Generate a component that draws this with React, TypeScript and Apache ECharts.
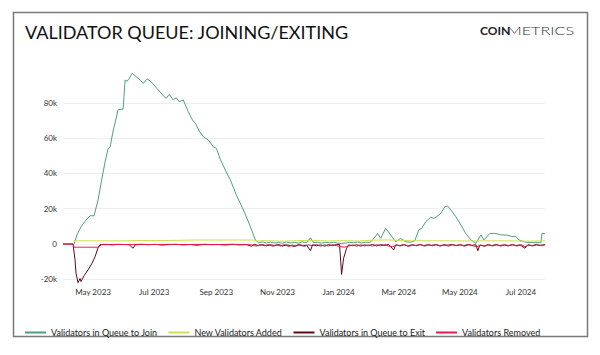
import React, { useEffect, useRef } from "react";
import * as echarts from "echarts";

const seriesNames = [
  "Validators in Queue to Join",
  "New Validators Added",
  "Validators in Queue to Exit",
  "Validators Removed",
];
const seriesColors = ["#4f9f7c", "#cfe04e", "#5a0c16", "#e8184c"];

const xLabelDates = [
  "2023-05-01", "2023-07-01", "2023-09-01", "2023-11-01",
  "2024-01-01", "2024-03-01", "2024-05-01", "2024-07-01",
];
const yTicks = [-20000, 0, 20000, 40000, 60000, 80000, 100000];

const joinQueue: [string, number][] = [
  ["2023-04-12", 0], ["2023-04-15", 5200], ["2023-04-19", 9800], ["2023-04-24", 13600],
  ["2023-04-28", 16000], ["2023-05-02", 16000], ["2023-05-06", 25000], ["2023-05-09", 34500],
  ["2023-05-13", 46500], ["2023-05-16", 54000], ["2023-05-18", 55000], ["2023-05-21", 64000],
  ["2023-05-26", 76000], ["2023-05-31", 76500], ["2023-06-02", 92900], ["2023-06-04", 92200],
  ["2023-06-06", 93800], ["2023-06-09", 96700], ["2023-06-13", 94800], ["2023-06-17", 92800],
  ["2023-06-20", 91000], ["2023-06-24", 93500], ["2023-06-27", 92400], ["2023-07-01", 90000],
  ["2023-07-06", 86700], ["2023-07-10", 84000], ["2023-07-13", 82500], ["2023-07-16", 84800],
  ["2023-07-20", 81600], ["2023-07-23", 82900], ["2023-07-26", 80600], ["2023-07-30", 81600],
  ["2023-08-04", 75000], ["2023-08-08", 70500], ["2023-08-11", 68400], ["2023-08-15", 64000],
  ["2023-08-19", 60800], ["2023-08-24", 58900], ["2023-08-29", 55100], ["2023-09-01", 54200],
  ["2023-09-05", 48000], ["2023-09-10", 41900], ["2023-09-15", 36300], ["2023-09-21", 27800],
  ["2023-09-28", 19300], ["2023-10-05", 9800], ["2023-10-10", 2300], ["2023-10-13", 800],
  ["2023-10-17", 1200], ["2023-10-21", 600], ["2023-10-25", 1000], ["2023-10-29", 500],
  ["2023-11-02", 900], ["2023-11-06", 400], ["2023-11-10", 1100], ["2023-11-14", 600],
  ["2023-11-18", 900], ["2023-11-22", 500], ["2023-11-26", 1200], ["2023-11-30", 700],
  ["2023-12-04", 3500], ["2023-12-07", 800], ["2023-12-11", 1000], ["2023-12-15", 500],
  ["2023-12-19", 900], ["2023-12-23", 600], ["2023-12-27", 1000], ["2023-12-31", 500],
  ["2024-01-04", 300], ["2024-01-08", 600], ["2024-01-12", 900], ["2024-01-16", 700],
  ["2024-01-20", 1100], ["2024-01-24", 600], ["2024-01-28", 1000], ["2024-02-01", 800],
  ["2024-02-04", 2300], ["2024-02-09", 6000], ["2024-02-12", 3200], ["2024-02-17", 8900],
  ["2024-02-22", 5100], ["2024-02-27", 1300], ["2024-03-03", 3200], ["2024-03-08", 1300],
  ["2024-03-13", 1000], ["2024-03-17", 1800], ["2024-03-21", 7900], ["2024-03-24", 8900],
  ["2024-03-28", 12600], ["2024-04-02", 15100], ["2024-04-05", 14500], ["2024-04-09", 15900],
  ["2024-04-12", 17400], ["2024-04-16", 21100], ["2024-04-19", 21500], ["2024-04-22", 19300],
  ["2024-04-27", 15500], ["2024-05-02", 10800], ["2024-05-07", 6000], ["2024-05-12", 2300],
  ["2024-05-17", 400], ["2024-05-22", 5100], ["2024-05-25", 2300], ["2024-05-31", 6000],
  ["2024-06-05", 6000], ["2024-06-09", 5500], ["2024-06-12", 5100], ["2024-06-17", 5100],
  ["2024-06-22", 4200], ["2024-06-26", 4200], ["2024-06-29", 2300], ["2024-07-04", 1300],
  ["2024-07-09", 800], ["2024-07-14", 800], ["2024-07-21", 800], ["2024-07-22", 6000],
  ["2024-07-25", 5800],
];

const newAdded: [string, number][] = [
  ["2023-04-12", 1800], ["2023-05-01", 1800], ["2023-06-01", 1800], ["2023-06-20", 2000],
  ["2023-07-15", 2000], ["2023-08-10", 2250], ["2023-09-10", 2250], ["2023-10-08", 2250],
  ["2023-10-12", 1700], ["2023-10-20", 1900], ["2023-11-05", 1600], ["2023-11-20", 1900],
  ["2023-12-05", 2100], ["2023-12-20", 1700], ["2024-01-05", 1900], ["2024-01-20", 1700],
  ["2024-02-05", 2200], ["2024-02-20", 2300], ["2024-03-05", 2000], ["2024-03-14", 1800],
  ["2024-04-15", 1800], ["2024-05-15", 1700], ["2024-06-01", 1800], ["2024-06-20", 1800],
  ["2024-07-05", 1600], ["2024-07-25", 1800],
];

const exitQueue: [string, number][] = [
  ["2023-04-01", 0], ["2023-04-11", 0], ["2023-04-13", -9000], ["2023-04-14", -16600],
  ["2023-04-16", -21900], ["2023-04-18", -19500], ["2023-04-19", -21300], ["2023-04-22", -18000],
  ["2023-04-26", -14700], ["2023-04-30", -10900], ["2023-05-03", -7200], ["2023-05-06", -2000],
  ["2023-05-08", -300], ["2023-05-14", -200], ["2023-05-20", -500], ["2023-05-26", -200],
  ["2023-06-01", -300], ["2023-06-06", -400], ["2023-06-10", -2400], ["2023-06-12", -500],
  ["2023-06-18", -200], ["2023-06-25", -400], ["2023-07-02", -200], ["2023-07-09", -600],
  ["2023-07-16", -300], ["2023-07-23", -200], ["2023-07-30", -500], ["2023-08-06", -300],
  ["2023-08-13", -700], ["2023-08-20", -200], ["2023-08-27", -400], ["2023-09-03", -300],
  ["2023-09-10", -600], ["2023-09-17", -200], ["2023-09-24", -500], ["2023-10-01", -300],
  ["2023-10-06", -1300], ["2023-10-09", -200], ["2023-10-13", -900], ["2023-10-17", -300],
  ["2023-10-21", -1100], ["2023-10-25", -400], ["2023-10-29", -1000], ["2023-11-02", -300],
  ["2023-11-06", -1200], ["2023-11-10", -500], ["2023-11-14", -900], ["2023-11-18", -1400],
  ["2023-11-22", -300], ["2023-11-26", -1100], ["2023-11-30", -600], ["2023-12-04", -3800],
  ["2023-12-06", -400], ["2023-12-10", -1000], ["2023-12-14", -500], ["2023-12-18", -1200],
  ["2023-12-22", -400], ["2023-12-26", -900], ["2023-12-30", -300], ["2024-01-02", -300],
  ["2024-01-04", -17200], ["2024-01-06", -8100], ["2024-01-09", -2400], ["2024-01-11", -500],
  ["2024-01-15", -1000], ["2024-01-19", -400], ["2024-01-23", -1200], ["2024-01-27", -500],
  ["2024-01-31", -900], ["2024-02-04", -300], ["2024-02-08", -1100], ["2024-02-12", -400],
  ["2024-02-16", -800], ["2024-02-20", -300], ["2024-02-25", -3400], ["2024-02-27", -500],
  ["2024-03-02", -1000], ["2024-03-06", -300], ["2024-03-10", -1200], ["2024-03-14", -500],
  ["2024-03-18", -900], ["2024-03-22", -300], ["2024-03-26", -1000], ["2024-03-30", -400],
  ["2024-04-03", -800], ["2024-04-07", -300], ["2024-04-11", -1100], ["2024-04-15", -400],
  ["2024-04-19", -700], ["2024-04-23", -300], ["2024-04-27", -900], ["2024-05-01", -400],
  ["2024-05-05", -1000], ["2024-05-09", -300], ["2024-05-13", -800], ["2024-05-17", -400],
  ["2024-05-19", -3800], ["2024-05-21", -600], ["2024-05-25", -1200], ["2024-05-29", -400],
  ["2024-06-02", -1000], ["2024-06-06", -300], ["2024-06-10", -900], ["2024-06-14", -500],
  ["2024-06-18", -1100], ["2024-06-22", -300], ["2024-06-26", -900], ["2024-06-30", -500],
  ["2024-07-05", -2400], ["2024-07-08", -400], ["2024-07-12", -1000], ["2024-07-16", -300],
  ["2024-07-20", -800], ["2024-07-25", -400],
];

const removed: [string, number][] = [
  ["2023-04-01", 0], ["2023-04-11", 0], ["2023-04-12", -1800], ["2023-05-07", -1800],
  ["2023-05-09", -400], ["2023-05-20", -200], ["2023-06-01", -300], ["2023-06-15", -200],
  ["2023-07-01", -300], ["2023-07-15", -200], ["2023-08-01", -300], ["2023-08-15", -200],
  ["2023-09-01", -300], ["2023-09-15", -200], ["2023-10-01", -300], ["2023-10-07", -600],
  ["2023-10-11", -1200], ["2023-10-15", -400], ["2023-10-19", -1000], ["2023-10-23", -300],
  ["2023-10-27", -1300], ["2023-10-31", -500], ["2023-11-04", -1100], ["2023-11-08", -300],
  ["2023-11-12", -1400], ["2023-11-16", -600], ["2023-11-20", -1100], ["2023-11-24", -400],
  ["2023-11-28", -1300], ["2023-12-02", -500], ["2023-12-06", -1000], ["2023-12-10", -300],
  ["2023-12-14", -1200], ["2023-12-18", -500], ["2023-12-22", -1100], ["2023-12-26", -400],
  ["2023-12-30", -1000], ["2024-01-03", -1500], ["2024-01-07", -1800], ["2024-01-11", -1200],
  ["2024-01-15", -500], ["2024-01-19", -1300], ["2024-01-23", -400], ["2024-01-27", -1100],
  ["2024-01-31", -600], ["2024-02-04", -1200], ["2024-02-08", -400], ["2024-02-12", -1000],
  ["2024-02-16", -300], ["2024-02-20", -1200], ["2024-02-24", -1500], ["2024-02-28", -600],
  ["2024-03-03", -1100], ["2024-03-07", -400], ["2024-03-11", -1300], ["2024-03-15", -500],
  ["2024-03-19", -1000], ["2024-03-23", -300], ["2024-03-27", -1200], ["2024-03-31", -500],
  ["2024-04-04", -1000], ["2024-04-08", -400], ["2024-04-12", -1100], ["2024-04-16", -600],
  ["2024-04-20", -1200], ["2024-04-24", -400], ["2024-04-28", -900], ["2024-05-02", -500],
  ["2024-05-06", -1200], ["2024-05-10", -400], ["2024-05-14", -1000], ["2024-05-18", -1500],
  ["2024-05-22", -600], ["2024-05-26", -1300], ["2024-05-30", -400], ["2024-06-03", -1100],
  ["2024-06-07", -500], ["2024-06-11", -1200], ["2024-06-15", -400], ["2024-06-19", -1000],
  ["2024-06-23", -500], ["2024-06-27", -1200], ["2024-07-01", -400], ["2024-07-05", -1500],
  ["2024-07-09", -600], ["2024-07-13", -1100], ["2024-07-17", -400], ["2024-07-21", -900],
  ["2024-07-25", -500],
];

const MONTHS = ["Jan", "Feb", "Mar", "Apr", "May", "Jun", "Jul", "Aug", "Sep", "Oct", "Nov", "Dec"];

function toTime(s: string): number {
  const [y, m, d] = s.split("-").map(Number);
  return Date.UTC(y, m - 1, d);
}

export default function App() {
  const ref = useRef<HTMLDivElement>(null);

  useEffect(() => {
    if (!ref.current) return;
    const chart = echarts.init(ref.current, null, { renderer: "svg" });
    const font = "Lato, 'Open Sans', sans-serif";
    const allData = [joinQueue, newAdded, exitQueue, removed];

    chart.setOption({
      animation: false,
      backgroundColor: "#ffffff",
      textStyle: { fontFamily: font },
      grid: {
        left: 63,
        right: 55,
        top: 67.5,
        bottom: 75.7,
        containLabel: false,
        outerBoundsMode: "none",
      },
      legend: {
        left: 20,
        top: 323,
        itemWidth: 21,
        itemHeight: 2,
        itemGap: 11,
        icon: "rect",
        textStyle: { fontFamily: font, fontSize: 9, color: "#222" },
        data: seriesNames,
      },
      xAxis: {
        type: "value",
        min: toTime("2023-04-01"),
        max: toTime("2024-07-25"),
        axisLine: { show: false },
        axisTick: { show: false },
        splitLine: { show: false },
        axisLabel: {
          customValues: xLabelDates.map(toTime),
          fontFamily: font,
          fontSize: 8,
          color: "#333",
          margin: 9,
          hideOverlap: false,
          formatter: (v: number) => {
            const d = new Date(v);
            return MONTHS[d.getUTCMonth()] + " " + d.getUTCFullYear();
          },
        },
      },
      yAxis: {
        type: "value",
        min: yTicks[0],
        max: yTicks[yTicks.length - 1],
        interval: 20000,
        axisLine: { show: false },
        axisTick: { show: false },
        splitLine: {
          show: true,
          showMaxLine: false,
          lineStyle: { color: "#eeeeee", width: 1 },
        },
        axisLabel: {
          fontFamily: font,
          fontSize: 8,
          color: "#333",
          margin: 6,
          showMaxLabel: false,
          formatter: (v: number) => (v === 0 ? "0" : v / 1000 + "k"),
        },
      },
      series: seriesNames.map((name, i) => ({
        name,
        type: "line",
        data: allData[i].map(([d, v]) => [toTime(d), v]),
        symbol: "none",
        clip: false,
        lineStyle: { color: seriesColors[i], width: 1 },
        itemStyle: { color: seriesColors[i] },
        z: 2 + i,
      })),
      graphic: [
        {
          type: "rect",
          shape: { x: 13.5, y: 12.5, width: 574, height: 324 },
          style: { fill: "none", stroke: "#7a7a7a", lineWidth: 1.5 },
          silent: true,
        },
        {
          type: "text",
          x: 25,
          y: 32,
          style: {
            text: "VALIDATOR QUEUE: JOINING/EXITING",
            fontFamily: font,
            fontSize: 18,
            fill: "#111",
            verticalAlign: "middle",
          },
        },
        {
          type: "text",
          x: 480,
          y: 30,
          style: {
            text: "COIN",
            fontFamily: font,
            fontSize: 12,
            fontWeight: "bold",
            fill: "#222",
            verticalAlign: "middle",
          },
        },
        {
          type: "text",
          x: 507,
          y: 30,
          scaleX: 1.35,
          style: {
            text: "METRICS",
            fontFamily: font,
            fontSize: 12,
            fontWeight: 300,
            fill: "#333",
            verticalAlign: "middle",
          },
        },
      ],
    });

    return () => chart.dispose();
  }, []);

  return (
    <div
      ref={ref}
      style={{ position: "absolute", left: 0, top: 0, width: 600, height: 355 }}
    />
  );
}
